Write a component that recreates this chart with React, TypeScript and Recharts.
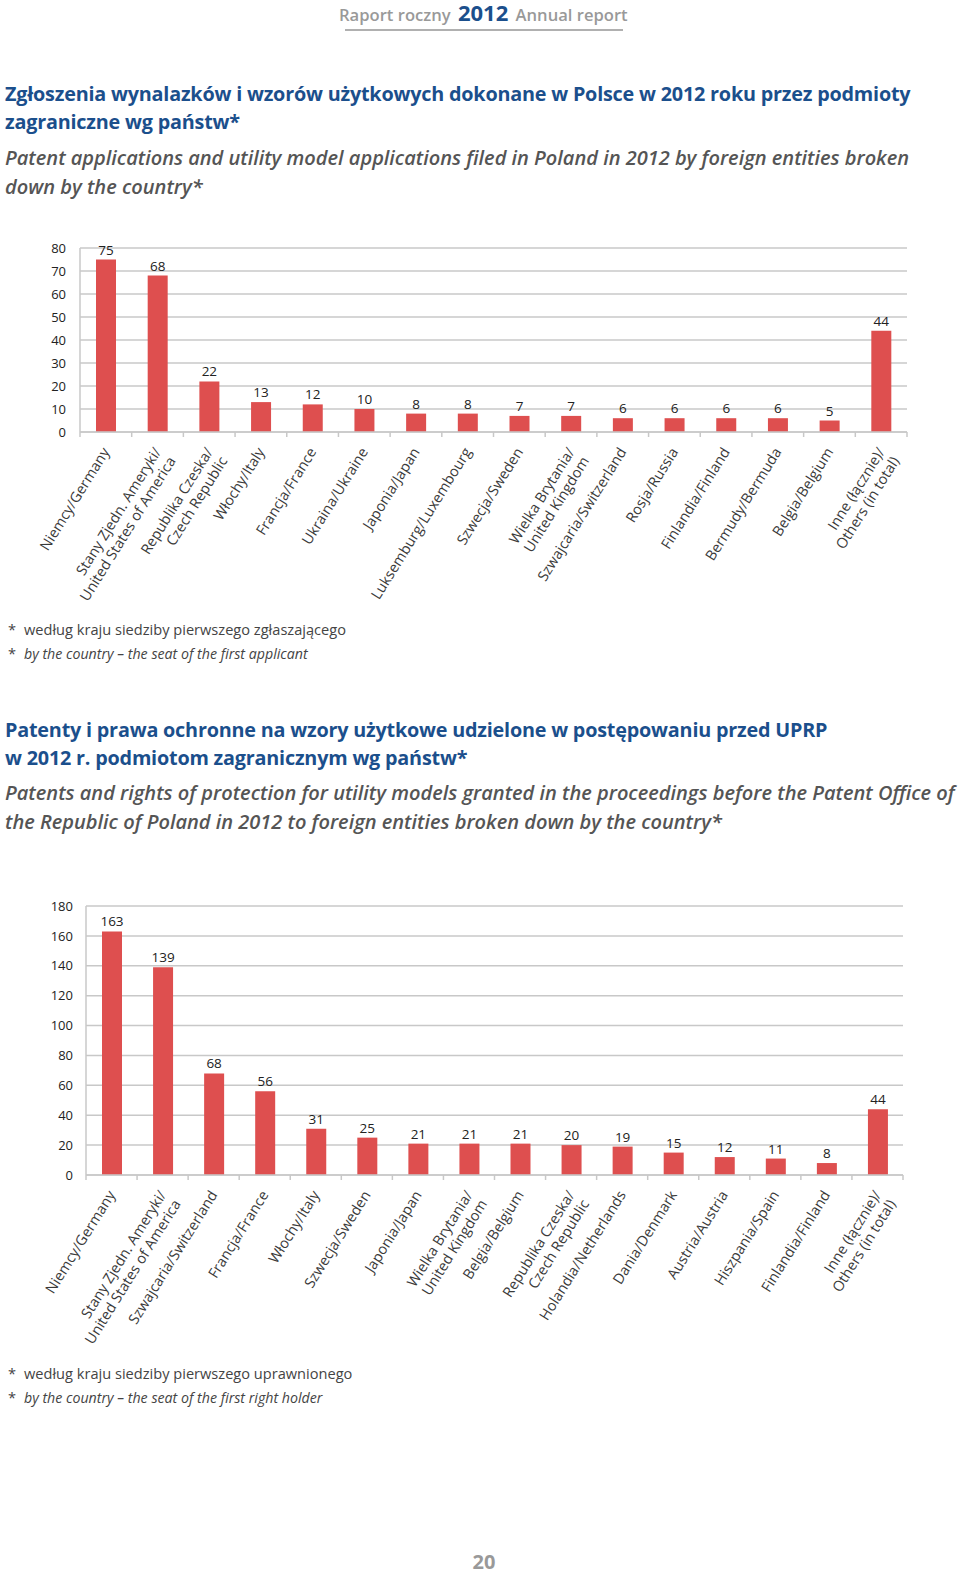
import React from 'react';
import { BarChart, Bar, XAxis, YAxis, CartesianGrid, LabelList } from 'recharts';

const RED = '#de4f4f';
const GRID = '#c8c8c8';
const BLUE = '#1b4f8c';
const FONT = '"Open Sans", "DejaVu Sans", sans-serif';

// Chart 1: applications filed by foreign entities
const applicantCountries = [
  'Niemcy/Germany',
  'Stany Zjedn. Ameryki/|United States of America',
  'Republika Czeska/|Czech Republic',
  'Włochy/Italy',
  'Francja/France',
  'Ukraina/Ukraine',
  'Japonia/Japan',
  'Luksemburg/Luxembourg',
  'Szwecja/Sweden',
  'Wielka Brytania/|United Kingdom',
  'Szwajcaria/Switzerland',
  'Rosja/Russia',
  'Finlandia/Finland',
  'Bermudy/Bermuda',
  'Belgia/Belgium',
  'Inne (łącznie)/|Others (in total)',
];
const applicantCounts = [75, 68, 22, 13, 12, 10, 8, 8, 7, 7, 6, 6, 6, 6, 5, 44];
const applicantTicks = [0, 10, 20, 30, 40, 50, 60, 70, 80];

// Chart 2: patents and rights of protection granted
const grantCountries = [
  'Niemcy/Germany',
  'Stany Zjedn. Ameryki/|United States of America',
  'Szwajcaria/Switzerland',
  'Francja/France',
  'Włochy/Italy',
  'Szwecja/Sweden',
  'Japonia/Japan',
  'Wielka Brytania/|United Kingdom',
  'Belgia/Belgium',
  'Republika Czeska/|Czech Republic',
  'Holandia/Netherlands',
  'Dania/Denmark',
  'Austria/Austria',
  'Hiszpania/Spain',
  'Finlandia/Finland',
  'Inne (łącznie)/|Others (in total)',
];
const grantCounts = [163, 139, 68, 56, 31, 25, 21, 21, 21, 20, 19, 15, 12, 11, 8, 44];
const grantTicks = [0, 20, 40, 60, 80, 100, 120, 140, 160, 180];

function makeCountryTick(bandWidth: number, count: number) {
  return (props: any) => {
    const { x, y, payload, index } = props;
    const lines = String(payload.value).split('|');
    const half = bandWidth / 2;
    return (
      <g>
        <line x1={x - half} x2={x - half} y1={y} y2={y + 5} stroke={GRID} strokeWidth={1.5} />
        {index === count - 1 && (
          <line x1={x + half} x2={x + half} y1={y} y2={y + 5} stroke={GRID} strokeWidth={1.5} />
        )}
        <text
          transform={`translate(${x},${y + 17}) rotate(-58)`}
          textAnchor="end"
          fontSize={14.5}
          fill="#3a3a3a"
          fontFamily={FONT}
        >
          {lines.map((l, i) => (
            <tspan key={i} x={0} dy={i === 0 ? '0.35em' : 17}>
              {l}
            </tspan>
          ))}
        </text>
      </g>
    );
  };
}

function CountryChart({
  names,
  values,
  ticks,
  width,
  height,
  margin,
  yWidth,
  yGap,
}: {
  names: string[];
  values: number[];
  ticks: number[];
  width: number;
  height: number;
  margin: { top: number; right: number; left: number; bottom: number };
  yWidth: number;
  yGap: number;
}) {
  const data = names.map((name, i) => ({ name, value: values[i] }));
  const plotWidth = width - margin.left - margin.right - yWidth;
  const tick = makeCountryTick(plotWidth / names.length, names.length);
  return (
    <BarChart width={width} height={height} data={data} margin={margin} style={{ fontFamily: FONT }}>
      <CartesianGrid vertical={false} stroke={GRID} strokeWidth={1.5} />
      <XAxis
        dataKey="name"
        interval={0}
        height={170}
        tickSize={0}
        tickMargin={0}
        tickLine={false}
        axisLine={{ stroke: GRID, strokeWidth: 1.5 }}
        tick={tick}
      />
      <YAxis
        width={yWidth}
        domain={[0, ticks[ticks.length - 1]]}
        ticks={ticks}
        interval={0}
        tickSize={0}
        tickMargin={yGap}
        tickLine={false}
        axisLine={{ stroke: GRID, strokeWidth: 1.5 }}
        tick={{ fontSize: 13, fill: '#222' }}
      />
      <Bar dataKey="value" fill={RED} barSize={20} isAnimationActive={false}>
        <LabelList dataKey="value" position="top" fontSize={13.5} fill="#222" />
      </Bar>
    </BarChart>
  );
}

const titleStyle: React.CSSProperties = {
  position: 'absolute',
  left: 5,
  color: BLUE,
  fontFamily: FONT,
  fontWeight: 700,
  fontSize: 19.8,
  lineHeight: '28px',
  whiteSpace: 'nowrap',
  letterSpacing: -0.2,
};
const subStyle: React.CSSProperties = {
  position: 'absolute',
  left: 5,
  color: '#555',
  fontFamily: FONT,
  fontStyle: 'italic',
  fontWeight: 600,
  fontSize: 20,
  lineHeight: '29px',
  whiteSpace: 'nowrap',
  letterSpacing: 0,
};
const noteStyle: React.CSSProperties = {
  position: 'absolute',
  left: 8,
  color: '#444',
  fontFamily: FONT,
  fontSize: 14.6,
  lineHeight: '24px',
  whiteSpace: 'nowrap',
};

function Note({ top, text, italic }: { top: number; text: string; italic?: boolean }) {
  return (
    <div style={{ ...noteStyle, top }}>
      <span style={{ display: 'inline-block', width: 16 }}>*</span>
      <span style={{ fontStyle: italic ? 'italic' : 'normal', fontSize: italic ? 14.2 : 14.6 }}>{text}</span>
    </div>
  );
}

export default function App() {
  return (
    <div style={{ position: 'absolute', left: 0, top: 0, width: 960, height: 1573, background: '#fff' }}>
      <div
        style={{
          position: 'absolute',
          left: 339,
          top: 1,
          fontFamily: FONT,
          whiteSpace: 'nowrap',
          color: '#999',
          fontSize: 16.6,
          fontWeight: 600,
          lineHeight: '24px',
        }}
      >
        Raport roczny{' '}
        <span style={{ color: BLUE, fontWeight: 700, fontSize: 22, lineHeight: '22px', margin: '0 3px' }}>2012</span>{' '}
        Annual report
      </div>
      <div style={{ position: 'absolute', left: 345, top: 29, width: 278, height: 2, background: '#b0b0b0' }} />

      <div style={{ ...titleStyle, top: 80 }}>
        Zgłoszenia wynalazków i wzorów użytkowych dokonane w Polsce w 2012 roku przez podmioty
        <br />
        zagraniczne wg państw*
      </div>
      <div style={{ ...subStyle, top: 143 }}>
        Patent applications and utility model applications filed in Poland in 2012 by foreign entities broken
        <br />
        down by the country*
      </div>

      <div style={{ position: 'absolute', left: 0, top: 200 }}>
        <CountryChart
          names={applicantCountries}
          values={applicantCounts}
          ticks={applicantTicks}
          width={960}
          height={420}
          margin={{ top: 48, right: 53, left: 0, bottom: 18 }}
          yWidth={80}
          yGap={14}
        />
      </div>

      <Note top={617} text="według kraju siedziby pierwszego zgłaszającego" />
      <Note top={641} text="by the country – the seat of the first applicant" italic />

      <div style={{ ...titleStyle, top: 716 }}>
        Patenty i prawa ochronne na wzory użytkowe udzielone w postępowaniu przed UPRP
        <br />w 2012 r. podmiotom zagranicznym wg państw*
      </div>
      <div style={{ ...subStyle, top: 778 }}>
        Patents and rights of protection for utility models granted in the proceedings before the Patent Office of
        <br />
        the Republic of Poland in 2012 to foreign entities broken down by the country*
      </div>

      <div style={{ position: 'absolute', left: 0, top: 860 }}>
        <CountryChart
          names={grantCountries}
          values={grantCounts}
          ticks={grantTicks}
          width={960}
          height={495}
          margin={{ top: 46, right: 57, left: 0, bottom: 10 }}
          yWidth={86}
          yGap={13}
        />
      </div>

      <Note top={1361} text="według kraju siedziby pierwszego uprawnionego" />
      <Note top={1385} text="by the country – the seat of the first right holder" italic />

      <div
        style={{
          position: 'absolute',
          left: 0,
          width: 968,
          top: 1548,
          textAlign: 'center',
          fontFamily: FONT,
          fontWeight: 700,
          fontSize: 20,
          color: '#999',
        }}
      >
        20
      </div>
    </div>
  );
}
